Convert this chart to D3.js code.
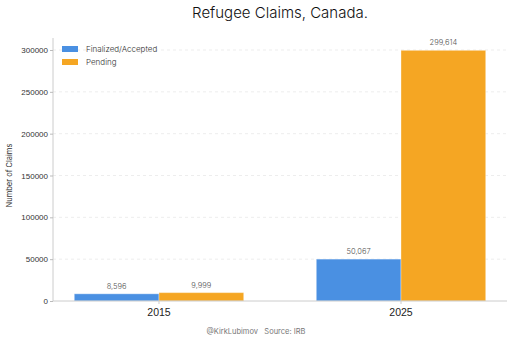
<!DOCTYPE html>
<html>
<head>
<meta charset="utf-8">
<script src="https://cdn.jsdelivr.net/npm/d3@7"></script>
<style>
  body { margin: 0; background: #fff; }
  svg { font-family: Inter, Roboto, sans-serif; }
</style>
</head>
<body>
<svg id="chart" width="512" height="341"></svg>
<script>
// data
const years = ["2015", "2025"];
const series = ["Finalized/Accepted", "Pending"];
const finalized = [8596, 50067];
const pending = [9999, 299614];
const yTicks = [0, 50000, 100000, 150000, 200000, 250000, 300000];

const colors = ["#4a90e2", "#f5a623"];
const width = 512, height = 341;
const margin = {top: 38, right: 5, bottom: 40, left: 53};

const rows = years.map((y, i) => ({year: y, values: [finalized[i], pending[i]]}));

const svg = d3.select("#chart");

const x = d3.scaleBand()
    .domain(years)
    .range([margin.left, width - margin.right])
    .paddingInner(0.3)
    .paddingOuter(0.088);

const xSub = d3.scaleBand()
    .domain(series)
    .range([0, x.bandwidth()]);

const y = d3.scaleLinear()
    .domain([0, 300000])
    .range([301, 50]);

// grid
svg.append("g")
    .selectAll("line")
    .data(yTicks.slice(1))
    .join("line")
      .attr("x1", margin.left)
      .attr("x2", width - margin.right)
      .attr("y1", d => y(d))
      .attr("y2", d => y(d))
      .attr("stroke", "#e8e8e8")
      .attr("stroke-dasharray", "3,3")
      .attr("stroke-width", 0.8);

// bars
const group = svg.append("g")
  .selectAll("g")
  .data(rows)
  .join("g")
    .attr("transform", d => `translate(${x(d.year)},0)`);

group.selectAll("rect")
  .data(d => d.values.map((v, i) => ({key: series[i], value: v, i})))
  .join("rect")
    .attr("x", d => xSub(d.key))
    .attr("y", d => y(d.value))
    .attr("width", xSub.bandwidth())
    .attr("height", d => y(0) - y(d.value))
    .attr("fill", d => colors[d.i])
    .attr("stroke", "#ffffff")
    .attr("stroke-opacity", 0.35)
    .attr("stroke-width", 1);

group.selectAll("text")
  .data(d => d.values.map((v, i) => ({key: series[i], value: v})))
  .join("text")
    .attr("x", d => xSub(d.key) + xSub.bandwidth() / 2)
    .attr("y", d => y(d.value) - 5)
    .attr("text-anchor", "middle")
    .attr("font-size", 7.5)
    .attr("font-weight", 300)
    .attr("fill", "#555")
    .text(d => d3.format(",")(d.value));

// x axis
const gx = svg.append("g")
    .attr("transform", `translate(0,${y(0)})`)
    .call(d3.axisBottom(x).tickSize(3).tickSizeOuter(0));
gx.select(".domain").attr("stroke", "#ccc");
gx.selectAll(".tick line").attr("stroke", "#ccc");
gx.selectAll(".tick text")
    .attr("font-size", 10.5)
    .attr("fill", "#222")
    .attr("dy", "0.9em");
gx.select(".domain").attr("d", `M${margin.left},0H${width - margin.right}`);

// y axis
const gy = svg.append("g")
    .attr("transform", `translate(${margin.left},0)`)
    .call(d3.axisLeft(y).tickValues(yTicks).tickFormat(d3.format("d")).tickSize(3).tickSizeOuter(0));
gy.select(".domain").attr("stroke", "#ccc").attr("d", `M0,${margin.top}V${y(0)}`);
gy.selectAll(".tick line").attr("stroke", "#bbb");
gy.selectAll(".tick text")
    .attr("font-size", 8)
    .attr("font-weight", 300)
    .attr("fill", "#333")
    .attr("x", -5);

// y title
svg.append("text")
    .attr("transform", `translate(12,${(y(0) + margin.top) / 2 + 6}) rotate(-90)`)
    .attr("text-anchor", "middle")
    .attr("font-size", 7.5)
    .attr("fill", "#333")
    .text("Number of Claims");

// title
svg.append("text")
    .attr("x", 280)
    .attr("y", 18)
    .attr("text-anchor", "middle")
    .attr("font-size", 15)
    .attr("font-weight", 300)
    .attr("fill", "#111")
    .text("Refugee Claims, Canada.");

// legend
const legend = svg.append("g")
  .selectAll("g")
  .data(series)
  .join("g")
    .attr("transform", (d, i) => `translate(62,${46 + i * 13})`);
legend.append("rect")
    .attr("width", 16)
    .attr("height", 6)
    .attr("fill", (d, i) => colors[i]);
legend.append("text")
    .attr("x", 24)
    .attr("y", 6)
    .attr("font-size", 8)
    .attr("font-weight", 300)
    .attr("fill", "#333")
    .text(d => d);

// credit
svg.append("text")
    .attr("x", 256)
    .attr("y", 334)
    .attr("text-anchor", "middle")
    .attr("font-size", 7.5)
    .attr("fill", "#777")
    .attr("xml:space", "preserve")
    .text("@KirkLubimov   Source: IRB");
</script>
</body>
</html>
